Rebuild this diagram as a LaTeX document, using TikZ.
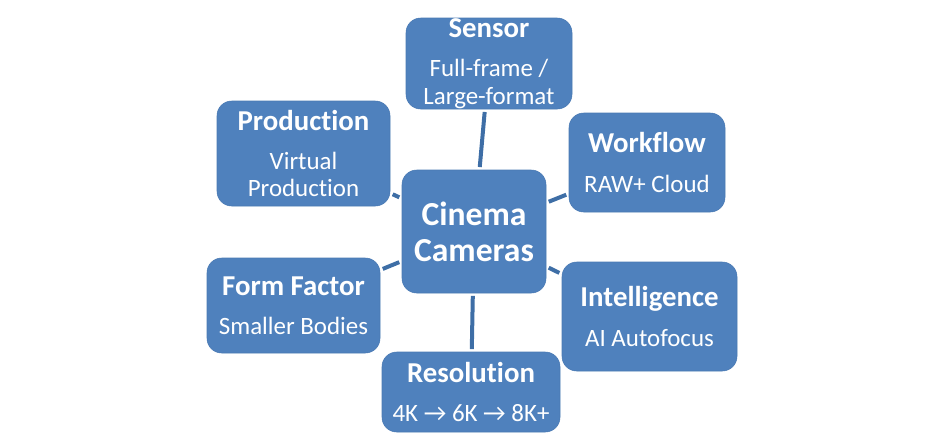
\documentclass[tikz,border=0pt]{standalone}
\usepackage{fontspec}
\setmainfont{Carlito}[Ligatures=NoCommon]
\usetikzlibrary{positioning}
\definecolor{boxblue}{HTML}{4F81BD}
\definecolor{boxedge}{HTML}{4A7AB3}
\definecolor{linkblue}{HTML}{3E6EA6}
\newcommand{\ttl}[1]{{\bfseries\fontsize{21.6}{25}\selectfont #1}\\[9pt]}
\begin{document}
\begin{tikzpicture}[x=0.75pt,y=-0.75pt,
  box/.style={draw=boxedge,fill=boxblue,rounded corners=11pt,text=white,align=center,inner sep=0pt,font=\fontsize{18.7}{20.5}\selectfont},
  link/.style={draw=linkblue,line width=3pt,shorten <=2pt,shorten >=2pt}]
  \useasboundingbox (0,0) rectangle (949,444);

  \node (cinema) at (474,231.5)[box,minimum width=108pt,minimum height=92.25pt,font=\bfseries\fontsize{25.2}{27}\selectfont]{Cinema\\Cameras};

  \node (sensor) at (489,63.5)[box,minimum width=124.5pt,minimum height=68.25pt]{\ttl{Sensor}Full-frame /\\Large-format};
  \node (production) at (303.5,153.5)[box,minimum width=129.75pt,minimum height=78.75pt]{\ttl{Production}Virtual\\Production};
  \node (workflow) at (647,162.5)[box,minimum width=117pt,minimum height=74.25pt]{\ttl{Workflow}RAW+ Cloud};
  \node (formfactor) at (293.5,305.5)[box,minimum width=129.75pt,minimum height=71.25pt]{\ttl{Form Factor}Smaller Bodies};
  \node (intelligence) at (649.5,316.5)[box,minimum width=131.25pt,minimum height=81.75pt]{\ttl{Intelligence}AI Autofocus};
  \node (resolution) at (471,392)[box,minimum width=133.5pt,minimum height=60pt]{\ttl{Resolution}4K → 6K → 8K+};

  % spokes
  \draw[link](cinema)--(sensor);
  \draw[link](cinema)--(production);
  \draw[link](cinema)--(workflow);
  \draw[link](cinema)--(formfactor);
  \draw[link](cinema)--(intelligence);
  \draw[link](cinema)--(resolution);
\end{tikzpicture}
\end{document}
